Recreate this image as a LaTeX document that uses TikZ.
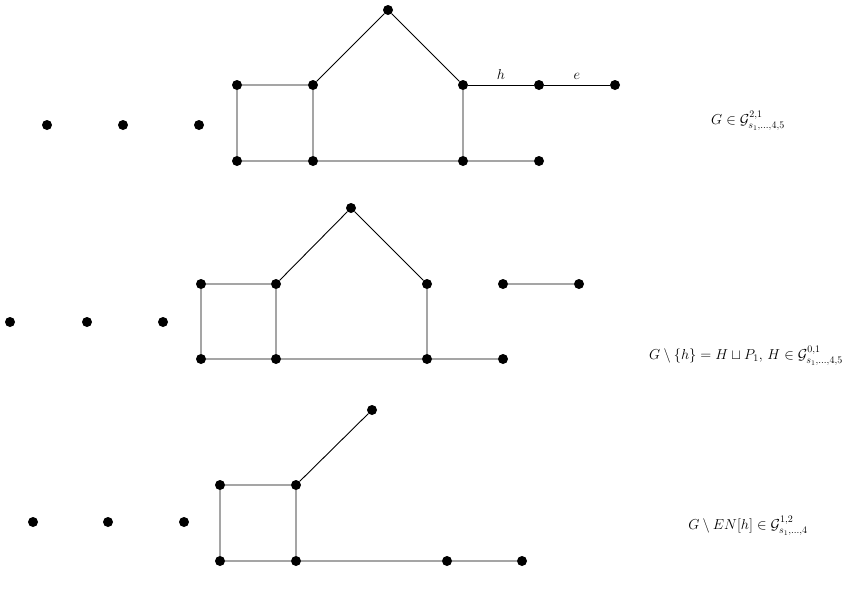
\documentclass[tikz,border=0pt]{standalone}
\usepackage{amsmath,amssymb}
\begin{document}
\begin{tikzpicture}[x=1pt,y=-1pt,
  vtx/.style={circle,fill=black,inner sep=0pt,minimum size=10pt},
  edge/.style={line width=0.9pt},
  lbl/.style={inner sep=1pt,font=\fontsize{14.5}{17}\selectfont}]
\useasboundingbox (0,0) rectangle (852,603);
% ---------- top graph ----------
\foreach \n/\x/\y in {ia/47/125,ib/123/125,ic/199/125,
  a/237/85,b/313/85,c/237/161,d/313/161,p/388/10,
  f/463/85,g/463/161,k/539/85,m/615/85,q/539/161}
  \node[vtx] (t\n) at (\x,\y) {};
\draw[edge] (ta)--(tb) (ta)--(tc) (tb)--(td) (tc)--(td) (td)--(tg)
  (tb)--(tp) (tp)--(tf) (tf)--(tg) (tg)--(tq);
\draw[edge] (tf)--node[lbl,above=4pt]{$h$}(tk);
\draw[edge] (tk)--node[lbl,above=4pt]{$e$}(tm);
\node[lbl] (lt) at (748,121) {$G\in\mathcal{G}^{2,1}_{s_1,\dots,4,5}$};
% ---------- middle graph ----------
\foreach \n/\x/\y in {ia/10/322,ib/87/322,ic/163/322,
  a/201/284,b/276/284,c/201/359,d/276/359,p/351/208,
  f/427/284,g/427/359,k/503/284,m/579/284,q/503/359}
  \node[vtx] (m\n) at (\x,\y) {};
\draw[edge] (ma)--(mb) (ma)--(mc) (mb)--(md) (mc)--(md) (md)--(mg)
  (mb)--(mp) (mp)--(mf) (mf)--(mg) (mg)--(mq) (mk)--(mm);
\node[lbl] (lm) at (746,356) {$G\setminus\{h\}=H\sqcup P_1,\,H\in\mathcal{G}^{0,1}_{s_1,\dots,4,5}$};
% ---------- bottom graph ----------
\foreach \n/\x/\y in {ia/33/522,ib/108/522,ic/184/522,
  a/220/485,b/296/485,c/220/561,d/296/561,p/372/410,
  g/447/561,q/522/561}
  \node[vtx] (b\n) at (\x,\y) {};
\draw[edge] (ba)--(bb) (ba)--(bc) (bb)--(bd) (bc)--(bd)
  (bb)--(bp) (bd)--(bg) (bg)--(bq);
\node[lbl] (lb) at (748,526) {$G\setminus EN[h]\in\mathcal{G}^{1,2}_{s_1,\dots,4}$};
\end{tikzpicture}
\end{document}
